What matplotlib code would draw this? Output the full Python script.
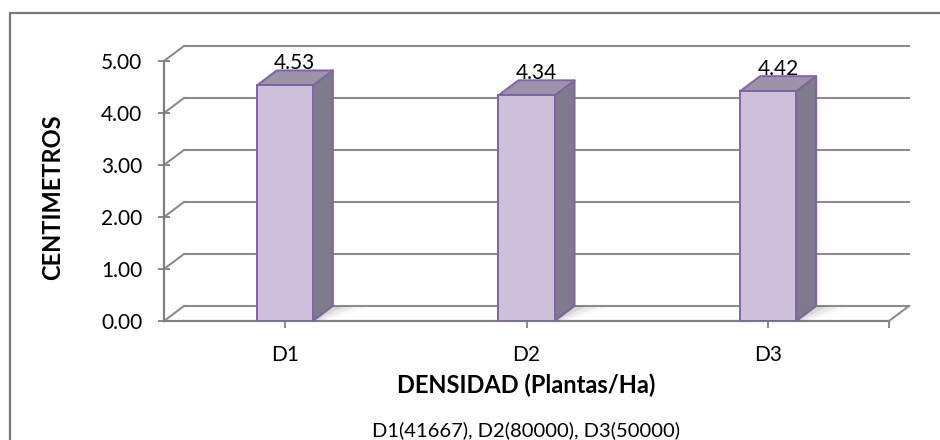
import matplotlib
matplotlib.use("Agg")
import matplotlib.pyplot as plt
from matplotlib.patches import Polygon, Rectangle

# Chart data
categories = ["D1", "D2", "D3"]
values = [4.53, 4.34, 4.42]
y_ticks = [0, 1, 2, 3, 4, 5]
x_title = "DENSIDAD (Plantas/Ha)"
y_title = "CENTIMETROS"
footnote = "D1(41667), D2(80000), D3(50000)"

plt.rcParams['font.family'] = ['Lato', 'DejaVu Sans']

W, H = 940, 440
fig = plt.figure(figsize=(W / 100, H / 100), dpi=100)
fig.patch.set_facecolor("white")

# outer chart-area frame (open at right/bottom edges)
fig.patches.append(Rectangle((10 / W, -0.2), 1.2, 1 - 13 / H + 0.2,
                             transform=fig.transFigure, fill=False,
                             edgecolor="#7a7a7a", linewidth=1.6))

ax = fig.add_axes([164 / W, (H - 321) / H, (889 - 164) / W, (321 - 61) / H])
ax.set_xlim(0, len(categories))
ax.set_ylim(0, 5)
for s in ax.spines.values():
    s.set_visible(False)
ax.patch.set_alpha(0)

# 3-D depth offset (in pixels) converted to data units
ax_w_px = (889 - 164)
ax_h_px = (321 - 61)
DX = 20 * len(categories) / ax_w_px
DY = 15 * 5 / ax_h_px
n = len(categories)

grid_c = "#8c8c8c"
for v in y_ticks:
    ax.plot([0, DX], [v, v + DY], color=grid_c, lw=1.5, clip_on=False, zorder=1)
    ax.plot([DX, n + DX], [v + DY, v + DY], color=grid_c, lw=1.5,
            clip_on=False, zorder=1)
# floor front edge and right edge
ax.plot([0, n], [0, 0], color="#808080", lw=1.6, clip_on=False, zorder=1)
ax.plot([n, n + DX], [0, DY], color=grid_c, lw=1.5, clip_on=False, zorder=1)
# vertical value axis
ax.plot([0, 0], [0, 5], color="#808080", lw=1.6, clip_on=False, zorder=1)

front_c = "#CCC0DA"
side_c = "#7F7A8C"
top_c = "#9C93A9"
edge_c = "#8064A2"
bw = 0.232
xs = [i + 0.5 for i in range(n)]

# soft floor shadow to the right of each bar
for x in xs:
    x1 = x + bw / 2
    for k, a in enumerate([0.08, 0.05, 0.03]):
        ext = 0.04 + 0.05 * k
        ax.add_patch(Polygon([(x1, 0), (x1 + DX, DY), (x1 + DX + ext, DY * 0.9),
                              (x1 + ext * 0.4, 0.02)],
                             closed=True, facecolor="#000000", alpha=a,
                             edgecolor="none", zorder=2, clip_on=False))

bars = ax.bar(xs, values, width=bw, color=front_c, edgecolor=edge_c,
              linewidth=1.4, zorder=4)
for x, v in zip(xs, values):
    x0, x1 = x - bw / 2, x + bw / 2
    side = Polygon([(x1, 0), (x1 + DX, DY), (x1 + DX, v + DY), (x1, v)],
                   closed=True, facecolor=side_c, edgecolor=edge_c, lw=1.4,
                   zorder=3, clip_on=False, joinstyle="round")
    top = Polygon([(x0, v), (x0 + DX, v + DY), (x1 + DX, v + DY), (x1, v)],
                  closed=True, facecolor=top_c, edgecolor=edge_c, lw=1.4,
                  zorder=3, clip_on=False, joinstyle="round")
    ax.add_patch(side)
    ax.add_patch(top)
    ax.text(x + DX / 2, v + DY + 0.02, f"{v:.2f}", ha="center", va="baseline",
            fontsize=15, color="#000000", zorder=6)

ax.set_yticks(y_ticks)
ax.set_yticklabels([f"{v:.2f}" for v in y_ticks])
ax.tick_params(axis="y", direction="inout", length=9, width=1.3,
               color="#808080", pad=11, labelsize=15)
ax.set_xticks(xs)
ax.set_xticklabels(categories)
ax.set_xticks([n], minor=True)
ax.tick_params(axis="x", which="both", direction="out", length=5, width=1.3,
               color="#808080", pad=12, labelsize=15)

fig.text(526.5 / W, 1 - 385 / H, x_title, ha="center", va="center",
         fontsize=17, fontweight="bold")
fig.text(53 / W, 1 - 197 / H, y_title, ha="center", va="center",
         rotation=90, fontsize=17, fontweight="bold")
fig.text(526.5 / W, 1 - 430 / H, footnote, ha="center", va="center",
         fontsize=14.5)

fig.savefig("out.png", dpi=100)
